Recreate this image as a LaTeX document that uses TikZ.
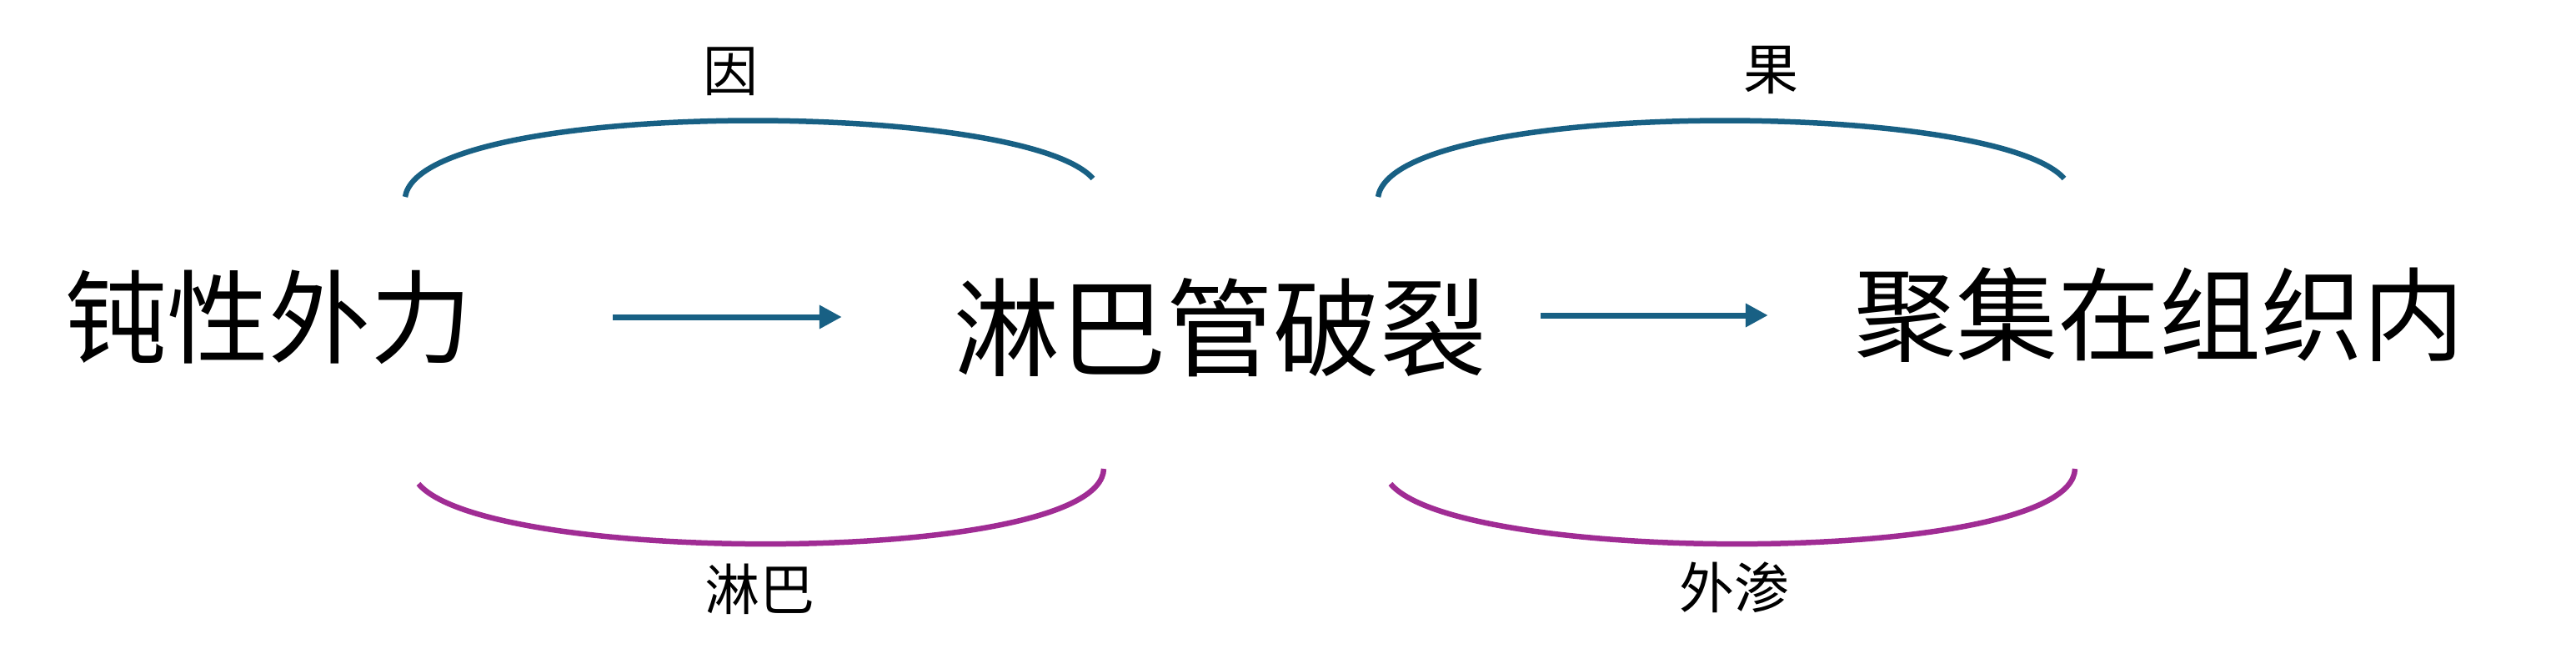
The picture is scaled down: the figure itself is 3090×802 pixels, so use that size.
\documentclass[tikz,border=0pt]{standalone}
\usepackage{fontspec}
\newfontfamily\cjk{Noto Sans CJK SC}
\usetikzlibrary{arrows.meta}
\definecolor{arcblue}{RGB}{24,96,132}
\definecolor{arcpurple}{RGB}{160,44,148}
\begin{document}
\begin{tikzpicture}[x=1pt,y=-1pt,
  big/.style={inner sep=0pt,font=\cjk\fontsize{122}{130}\selectfont},
  small/.style={inner sep=0pt,font=\cjk\fontsize{66}{72}\selectfont},
  flow/.style={draw=arcblue,line width=7pt,-{Triangle[length=27pt,width=27pt]}},
  toparc/.style={draw=arcblue,line width=6.5pt},
  botarc/.style={draw=arcpurple,line width=6.5pt}]
\useasboundingbox (0,0) rectangle (3090,802);
\node[big] (t1) at (322,380) {钝性外力};
\node[big,font=\cjk\fontsize{128}{134}\selectfont] (t2) at (1463,393) {淋巴管破裂};
\node[big] (t3) at (2590,378) {聚集在组织内};
\draw[flow,shorten <=169pt,shorten >=133pt] (t1.east) -- (t2.west |- t1.east);
\draw[flow,shorten <=65pt,shorten >=103pt] (t2.east |- t3.east) -- (t3.west);
% arcs
\coordinate (a1l) at (486,236); \coordinate (a1r) at (1311,214);
\coordinate (b1l) at (502,580); \coordinate (b1r) at (1324,562);
\coordinate (a2l) at (1653,236); \coordinate (a2r) at (2476,214);
\coordinate (b2l) at (1668,580); \coordinate (b2r) at (2489,562);
\draw[toparc] (a1l) .. controls (505,118) and (1225,118) .. (a1r);
\draw[toparc] (a2l) .. controls (1672,118) and (2390,118) .. (a2r);
\draw[botarc] (b1l) .. controls (585,679) and (1320,679) .. (b1r);
\draw[botarc] (b2l) .. controls (1751,679) and (2485,679) .. (b2r);
\node[small] (l1) at (876,86) {因};
\node[small] (l2) at (2124,84) {果};
\node[small] (l3) at (911,706) {淋巴};
\node[small] (l4) at (2080,704) {外渗};
\end{tikzpicture}
\end{document}
